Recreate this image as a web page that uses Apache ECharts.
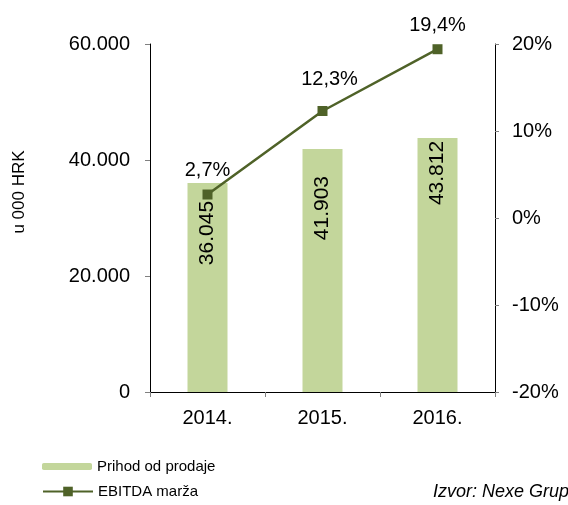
<!DOCTYPE html>
<html>
<head>
<meta charset="utf-8">
<script src="https://cdn.jsdelivr.net/npm/echarts@6/dist/echarts.min.js"></script>
<style>
  html, body { margin: 0; padding: 0; background: #fff; }
  #chart { width: 568px; height: 505px; }
</style>
</head>
<body>
<div id="chart"></div>
<script>
// podaci
var godine = ['2014.', '2015.', '2016.'];
var prihod = [36045, 41903, 43812];
var ebitdaMarza = [2.7, 12.3, 19.4];

// pomak oznaka (samo izgled)
var pomakStupac = [18, 27, 3];
var pomakLinija = [[0, 0], [7, -8], [0, 0]];

var font = '"Liberation Sans", Arial, Helvetica, sans-serif';

function tisuce(n) {
    return String(n).replace(/\B(?=(\d{3})+(?!\d))/g, '.');
}

var myChart = echarts.init(document.getElementById('chart'));

var option = {
    animation: false,
    textStyle: { fontFamily: font, color: '#000' },
    grid: { left: 150, right: 73, top: 44, bottom: 113 },
    legend: [
        {
            data: ['Prihod od prodaje'],
            left: 42, top: 459, padding: 0,
            itemWidth: 50, itemHeight: 7,
            textStyle: { fontSize: 15, color: '#000', fontFamily: font }
        },
        {
            data: ['EBITDA marža'],
            left: 42, top: 484, padding: 0,
            itemWidth: 50, itemHeight: 12,
            textStyle: { fontSize: 15, color: '#000', fontFamily: font }
        }
    ],
    graphic: [{
        type: 'text',
        left: 433, top: 483,
        style: {
            text: 'Izvor: Nexe Grupa',
            font: 'italic 18px ' + font,
            fill: '#000'
        }
    }],
    xAxis: {
        type: 'category',
        data: godine,
        axisLine: { lineStyle: { color: '#000', width: 1 } },
        axisTick: { show: true, length: 5, lineStyle: { color: '#808080' } },
        axisLabel: { fontSize: 20, color: '#000', margin: 16 }
    },
    yAxis: [
        {
            type: 'value',
            min: 0, max: 60000, interval: 20000,
            name: 'u 000 HRK',
            nameLocation: 'middle',
            nameGap: 122,
            nameTextStyle: { fontSize: 17, color: '#000', padding: [0, 0, 0, 52] },
            axisLine: { show: true, lineStyle: { color: '#000', width: 1 } },
            axisTick: { show: true, length: 5, lineStyle: { color: '#808080' } },
            axisLabel: {
                fontSize: 20, color: '#000', margin: 20,
                formatter: function (v) { return tisuce(v); }
            },
            splitLine: { show: false }
        },
        {
            type: 'value',
            min: -20, max: 20, interval: 10,
            axisLine: { show: true, lineStyle: { color: '#000', width: 1 } },
            axisTick: { show: true, length: 4, lineStyle: { color: '#808080' } },
            axisLabel: { fontSize: 20, color: '#000', margin: 17, formatter: '{value}%' },
            splitLine: { show: false }
        }
    ],
    series: [
        {
            name: 'Prihod od prodaje',
            type: 'bar',
            data: prihod.map(function (v, i) {
                return { value: v, label: { position: ['50%', pomakStupac[i]] } };
            }),
            barWidth: 40,
            itemStyle: { color: '#c3d69b' },
            label: {
                show: true,
                rotate: 90,
                align: 'right',
                verticalAlign: 'middle',
                fontSize: 21,
                color: '#000',
                formatter: function (p) { return tisuce(p.value); }
            }
        },
        {
            name: 'EBITDA marža',
            type: 'line',
            yAxisIndex: 1,
            data: ebitdaMarza.map(function (v, i) {
                return { value: v, label: { offset: pomakLinija[i] } };
            }),
            symbol: 'rect',
            symbolSize: 10,
            lineStyle: { color: '#4f6228', width: 2.5 },
            itemStyle: { color: '#4f6228' },
            label: {
                show: true,
                position: 'top',
                distance: 9,
                fontSize: 20,
                color: '#000',
                formatter: function (p) { return p.value.toFixed(1).replace('.', ',') + '%'; }
            }
        }
    ]
};

myChart.setOption(option);
</script>
</body>
</html>
